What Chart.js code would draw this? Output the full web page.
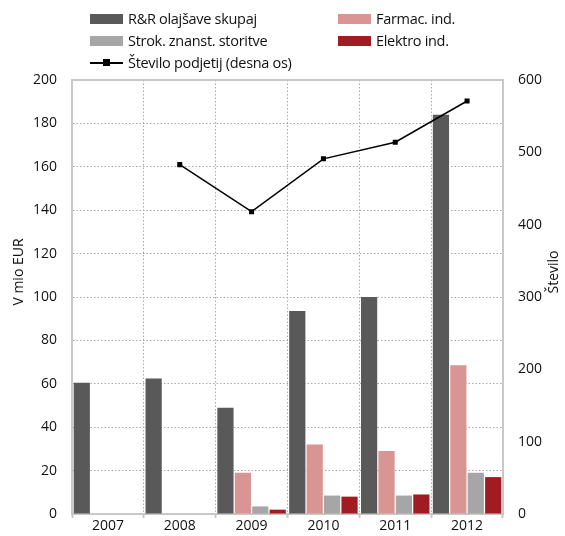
<!DOCTYPE html>
<html>
<head>
<meta charset="utf-8">
<script src="https://cdn.jsdelivr.net/npm/chart.js@4"></script>
<style>
  body { margin: 0; background: #fff; }
  #wrap { position: relative; width: 565px; height: 536px; }
  #legend { position: absolute; left: 0; top: 0; width: 565px; font-family: "Open Sans", sans-serif; font-size: 14.5px; color: #111; }
  .item { position: absolute; display: flex; align-items: center; white-space: nowrap; letter-spacing: -0.3px; }
  .box { width: 33px; height: 10px; margin-right: 5px; }
  .ln { position: relative; width: 33px; height: 2px; background: #000; margin-right: 5px; }
  .ln i { position: absolute; left: 13px; top: -3px; width: 7px; height: 7px; background: #000; }
</style>
</head>
<body>
<div id="wrap">
  <canvas id="chart" width="565" height="536"></canvas>
  <div id="legend"></div>
</div>
<script>
const years = ["2007", "2008", "2009", "2010", "2011", "2012"];

const rrTotal = [60.5, 62.5, 49, 93.5, 100, 184];
const pharma = [0, 0, 19, 32, 29, 68.5];
const science = [0, 0, 3.5, 8.5, 8.5, 19];
const electro = [0, 0, 2, 8, 9, 17];
const firms = [null, 483, 418, 491, 514, 571];

const labels = {
  rr: "R&R olajšave skupaj",
  pharma: "Farmac. ind.",
  science: "Strok. znanst. storitve",
  electro: "Elektro ind.",
  firms: "Število podjetij (desna os)",
};
const leftTitle = "V mio EUR";
const rightTitle = "Število";

const colors = {
  rr: "#595959",
  pharma: "#d99594",
  science: "#a6a6a6",
  electro: "#a01b22",
  firms: "#000000",
};

const font = { family: "'Open Sans', sans-serif", size: 14, lineHeight: 1 };
const gridColor = "#a8a8a8";
const frameColor = "#c8c8c8";

const barDs = (key, data) => ({
  type: "bar",
  label: labels[key],
  data: data,
  backgroundColor: colors[key],
  borderWidth: 0,
  yAxisID: "y",
  order: 2,
  categoryPercentage: 0.97,
  barPercentage: 0.93,
});

// top border of the plot box + axis titles (both read bottom-to-top)
const frame = {
  id: "frame",
  afterDraw(chart) {
    const a = chart.chartArea;
    const c = chart.ctx;
    c.save();
    c.strokeStyle = frameColor;
    c.lineWidth = 2;
    c.beginPath();
    c.moveTo(a.left, a.top);
    c.lineTo(a.right, a.top);
    c.stroke();

    c.fillStyle = "#111";
    c.font = "14px 'Open Sans', sans-serif";
    c.textAlign = "center";
    c.textBaseline = "middle";
    const midY = (a.top + a.bottom) / 2 - 25;
    c.translate(chart.scales.y.left + 1, midY);
    c.rotate(-Math.PI / 2);
    c.fillText(leftTitle, 0, 0);
    c.restore();

    c.save();
    c.fillStyle = "#111";
    c.font = "14px 'Open Sans', sans-serif";
    c.textAlign = "center";
    c.textBaseline = "middle";
    c.translate(chart.scales.y1.right - 3, midY);
    c.rotate(-Math.PI / 2);
    c.fillText(rightTitle, 0, 0);
    c.restore();
  },
};

const chart = new Chart(document.getElementById("chart"), {
  data: {
    labels: years,
    datasets: [
      {
        type: "line",
        label: labels.firms,
        data: firms,
        borderColor: colors.firms,
        backgroundColor: colors.firms,
        borderWidth: 1.5,
        pointStyle: "rect",
        pointRadius: 2.5,
        yAxisID: "y1",
        order: 0,
      },
      barDs("rr", rrTotal),
      barDs("pharma", pharma),
      barDs("science", science),
      barDs("electro", electro),
    ],
  },
  options: {
    responsive: false,
    animation: false,
    layout: { padding: { top: 80, left: 18, right: 8, bottom: 0 } },
    plugins: {
      legend: { display: false },
      tooltip: { enabled: false },
    },
    scales: {
      x: {
        offset: true,
        grid: {
          offset: true,
          color: gridColor,
          tickLength: 4,
          tickColor: frameColor,
          tickWidth: 2,
          tickBorderDash: [],
        },
        border: { color: frameColor, width: 2, dash: [1.5, 2] },
        ticks: { color: "#111", font: font, padding: 1 },
      },
      y: {
        position: "left",
        min: 0,
        max: 200,
        ticks: { stepSize: 20, color: "#111", font: font, padding: 15 },
        grid: { color: gridColor, drawTicks: false },
        border: { color: frameColor, width: 2, dash: [1.5, 2] },
      },
      y1: {
        position: "right",
        min: 0,
        max: 600,
        ticks: { stepSize: 100, color: "#111", font: font, padding: 15 },
        grid: { drawOnChartArea: false, drawTicks: false },
        border: { color: frameColor, width: 2 },
      },
    },
  },
  plugins: [frame],
});

// legend laid out in two columns like the original
const legend = document.getElementById("legend");
const legendItems = [
  { key: "rr", x: 90, y: 9 },
  { key: "pharma", x: 338, y: 9 },
  { key: "science", x: 90, y: 31 },
  { key: "electro", x: 338, y: 31 },
  { key: "firms", x: 90, y: 53 },
];
for (const it of legendItems) {
  const d = document.createElement("div");
  d.className = "item";
  d.style.left = it.x + "px";
  d.style.top = it.y + "px";
  const mark = it.key === "firms"
    ? '<span class="ln"><i></i></span>'
    : '<span class="box" style="background:' + colors[it.key] + '"></span>';
  d.innerHTML = mark + "<span>" + labels[it.key] + "</span>";
  legend.appendChild(d);
}
</script>
</body>
</html>
